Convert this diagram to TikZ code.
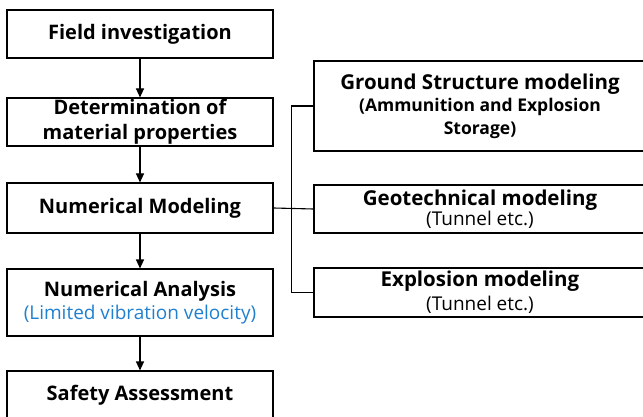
\documentclass[tikz,border=0pt]{standalone}
\usepackage{fontspec}
\setmainfont{Open Sans}
\usetikzlibrary{arrows.meta, positioning}
\definecolor{noteblue}{HTML}{2080D0}
\tikzset{
  stepbox/.style={draw, line width=1.1pt, align=center, inner sep=0pt},
  leftbox/.style={stepbox, minimum width=266pt},
  rightbox/.style={stepbox, minimum width=332pt},
  flow/.style={line width=1.1pt, -{Triangle[length=9pt,width=8pt]}},
  link/.style={line width=1.1pt}
}
\newcommand{\subtext}[1]{{\fontsize{19}{23}\selectfont\mdseries #1}}
\begin{document}
\begin{tikzpicture}[x=1pt,y=-1pt]
\useasboundingbox (0,0) rectangle (643,417);
\clip (0,0) rectangle (643,417);

% left column
\node (field) at (140,34) [leftbox, minimum height=48pt, font=\fontsize{20}{25}\selectfont\bfseries] {Field investigation};
\node (matprop) at (140,122) [leftbox, minimum height=48pt, font=\fontsize{20}{25}\selectfont\bfseries] {Determination of\\ material properties};
\node (nummod) at (140,208) [leftbox, minimum height=50pt, font=\fontsize{20}{25}\selectfont\bfseries] {Numerical Modeling};
\node (numana) at (140,302.5) [leftbox, minimum height=67pt, font=\fontsize{20}{23}\selectfont\bfseries] {Numerical Analysis\\ \subtext{\color{noteblue}(Limited vibration velocity)}};
\node (safety) at (140,395) [leftbox, minimum height=48pt, font=\fontsize{20}{25}\selectfont\bfseries] {Safety Assessment};

% right column
\node (ground) at (480,106) [rightbox, minimum height=90pt, font=\fontsize{20.5}{22.5}\selectfont\bfseries] {Ground Structure modeling\\ {\fontsize{17.5}{22.5}\selectfont (Ammunition and Explosion}\\ {\fontsize{17.5}{22.5}\selectfont Storage)}};
\node (geotech) at (480,209) [rightbox, minimum height=48pt, font=\fontsize{20.5}{20.5}\selectfont\bfseries] {Geotechnical modeling\\ \subtext{(Tunnel etc.)}};
\node (explo) at (480,292.5) [rightbox, minimum height=49pt, font=\fontsize{20.5}{24}\selectfont\bfseries] {Explosion modeling\\ \subtext{(Tunnel etc.)}};

\draw[flow] (field) -- (matprop);
\draw[flow] (matprop) -- (nummod);
\draw[flow] (nummod) -- (numana);
\draw[flow] (numana) -- (safety);

\draw[link] (nummod.east) -- (geotech.west);
\draw[link] (ground.west) -- ++(-22,0) |- (explo.west);
\end{tikzpicture}
\end{document}
